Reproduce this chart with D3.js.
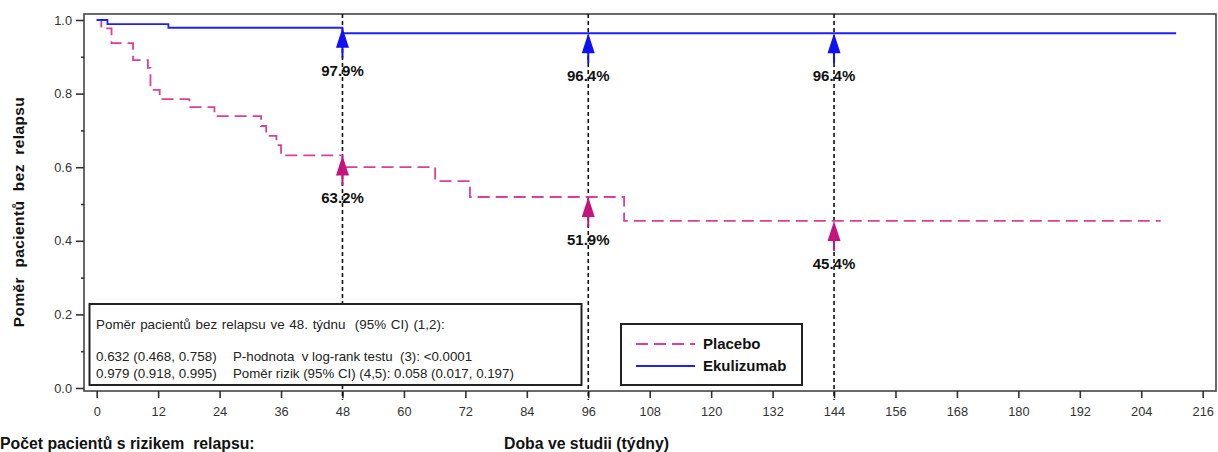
<!DOCTYPE html>
<html>
<head>
<meta charset="utf-8">
<script src="https://cdn.jsdelivr.net/npm/d3@7"></script>
<style>
body { margin: 0; background: #fff; }
text { font-family: "Liberation Sans", Arial, sans-serif; white-space: pre; }
</style>
</head>
<body>
<div id="chart"></div>
<script>
// Kaplan-Meier steps (weeks, proportion without relapse)
var placeboWeeks = [0, 0.9, 2.9, 7.1, 10, 10.5, 12.3, 18.1, 23, 32.1, 33.1, 35.1, 36, 48, 66.1, 72.9, 103, 207.8];
var placeboSurv  = [1, 0.977, 0.937, 0.891, 0.870, 0.810, 0.785, 0.763, 0.739, 0.712, 0.685, 0.660, 0.632, 0.600, 0.562, 0.519, 0.454, 0.454];
var ekuWeeks = [0, 2.1, 14, 48, 210.8];
var ekuSurv  = [1, 0.989, 0.979, 0.964, 0.964];

var markWeeks = [48, 96, 144];
var placeboMarks = [0.632, 0.519, 0.454];
var ekuMarks = [0.979, 0.964, 0.964];
var placeboLabels = ['63.2%', '51.9%', '45.4%'];
var ekuLabels = ['97.9%', '96.4%', '96.4%'];

var xTicks = d3.range(0, 217, 12);
var yTicks = [0, 0.2, 0.4, 0.6, 0.8, 1.0];
var yMinorTicks = [0.1, 0.3, 0.5, 0.7, 0.9];

var seriesNames = ['Placebo', 'Ekulizumab'];
var statsTitle = 'Poměr pacientů bez relapsu ve 48. týdnu  (95% CI) (1,2):';
var statsLeft = ['0.632 (0.468, 0.758)', '0.979 (0.918, 0.995)'];
var statsRight = ['P-hodnota  v log-rank testu  (3): <0.0001', 'Poměr rizik (95% CI) (4,5): 0.058 (0.017, 0.197)'];

var svgwidth = 1218, svgheight = 452;
var frame = {left: 84, top: 14, right: 1216, bottom: 391};
var placeboColor = '#dc3f99', placeboArrow = '#c4157f';
var ekuColor = '#1f1fff', ekuArrow = '#1010f5';

var svg = d3.select('#chart')
	.append('svg')
		.attr('width', svgwidth)
		.attr('height', svgheight);

var x = d3.scaleLinear().domain([0, 216]).range([96.7, 1202.7]);
var y = d3.scaleLinear().domain([0, 1]).range([388, 20]);

// frame
svg.append('rect')
	.attr('x', frame.left)
	.attr('y', frame.top)
	.attr('width', frame.right - frame.left)
	.attr('height', frame.bottom - frame.top)
	.attr('fill', 'none')
	.attr('stroke', '#444')
	.attr('stroke-width', 1.6);

var xAxis = d3.axisBottom(x).tickValues(xTicks).tickSize(7).tickSizeOuter(0).tickPadding(9);
var gX = svg.append('g')
	.attr('transform', 'translate(0,' + frame.bottom + ')')
	.call(xAxis);

var yAxis = d3.axisLeft(y).tickValues(yTicks).tickSize(8).tickSizeOuter(0).tickPadding(4)
	.tickFormat(d3.format('.1f'));
var gY = svg.append('g')
	.attr('transform', 'translate(' + frame.left + ',0)')
	.call(yAxis);

svg.append('g')
	.attr('transform', 'translate(' + frame.left + ',0)')
	.call(d3.axisLeft(y).tickValues(yMinorTicks).tickSize(3).tickFormat(''))
	.select('.domain').remove();

svg.selectAll('.domain').remove();
svg.selectAll('.tick line').attr('stroke', '#333').attr('stroke-width', 1.6);
svg.selectAll('.tick text')
	.attr('fill', '#333')
	.attr('font-size', 12.8)
	.attr('font-family', '"Liberation Sans", Arial, sans-serif');

// reference lines at the milestone weeks
svg.selectAll('.refline')
	.data(markWeeks)
	.enter().append('line')
	.attr('x1', function(d) { return x(d); })
	.attr('x2', function(d) { return x(d); })
	.attr('y1', frame.top)
	.attr('y2', frame.bottom + 9)
	.attr('stroke', '#111')
	.attr('stroke-width', 1.6)
	.attr('stroke-dasharray', '4,3');

var step = d3.line()
	.curve(d3.curveStepAfter)
	.x(function(d) { return x(d[0]); })
	.y(function(d) { return y(d[1]); });

svg.append('path')
	.datum(d3.zip(placeboWeeks, placeboSurv))
	.attr('fill', 'none')
	.attr('stroke', placeboColor)
	.attr('stroke-width', 1.8)
	.attr('stroke-dasharray', '12,6')
	.attr('d', step);

svg.append('path')
	.datum(d3.zip(ekuWeeks, ekuSurv))
	.attr('fill', 'none')
	.attr('stroke', ekuColor)
	.attr('stroke-width', 1.8)
	.attr('d', step);

function drawArrows(values, labels, color) {
	markWeeks.forEach(function(w, i) {
		var cx = x(w), ty = y(values[i]);
		svg.append('line')
			.attr('x1', cx).attr('x2', cx)
			.attr('y1', ty + 18).attr('y2', ty + 30)
			.attr('stroke', color)
			.attr('stroke-width', 2);
		svg.append('path')
			.attr('d', 'M' + cx + ',' + ty + 'L' + (cx - 6.5) + ',' + (ty + 20) + 'L' + (cx + 6.5) + ',' + (ty + 20) + 'Z')
			.attr('fill', color);
		svg.append('text')
			.attr('x', cx)
			.attr('y', ty + 48)
			.attr('text-anchor', 'middle')
			.attr('font-size', 15)
			.attr('font-weight', 'bold')
			.attr('fill', '#111')
			.text(labels[i]);
	});
}
drawArrows(placeboMarks, placeboLabels, placeboArrow);
drawArrows(ekuMarks, ekuLabels, ekuArrow);

// statistics box
var stats = svg.append('g');
stats.append('rect')
	.attr('x', 89.5).attr('y', 304)
	.attr('width', 492).attr('height', 81)
	.attr('fill', '#fff')
	.attr('stroke', '#222')
	.attr('stroke-width', 2);
stats.append('text')
	.attr('x', 96).attr('y', 328.5)
	.attr('font-size', 13.4)
	.attr('word-spacing', 1)
	.attr('fill', '#222')
	.text(statsTitle);
statsLeft.forEach(function(t, i) {
	stats.append('text')
		.attr('x', 96).attr('y', 360.5 + i * 17)
		.attr('font-size', 13.4)
		.attr('fill', '#222')
		.text(t);
	stats.append('text')
		.attr('x', 233).attr('y', 360.5 + i * 17)
		.attr('font-size', 13.3)
		.attr('fill', '#222')
		.text(statsRight[i]);
});

// legend
var legend = svg.append('g');
legend.append('rect')
	.attr('x', 621).attr('y', 324)
	.attr('width', 181).attr('height', 61)
	.attr('fill', '#fff')
	.attr('stroke', '#222')
	.attr('stroke-width', 2);
[placeboColor, ekuColor].forEach(function(c, i) {
	legend.append('line')
		.attr('x1', 636).attr('x2', 695)
		.attr('y1', 344 + i * 22).attr('y2', 344 + i * 22)
		.attr('stroke', c)
		.attr('stroke-width', 1.8)
		.attr('stroke-dasharray', i === 0 ? '12,6' : null);
	legend.append('text')
		.attr('x', 703).attr('y', 349 + i * 22)
		.attr('font-size', 15)
		.attr('font-weight', 'bold')
		.attr('fill', '#111')
		.text(seriesNames[i]);
});

// axis titles
svg.append('text')
	.attr('transform', 'translate(24,212) rotate(-90)')
	.attr('text-anchor', 'middle')
	.attr('font-size', 15.5)
	.attr('font-weight', 'bold')
	.attr('letter-spacing', 0.4)
	.attr('fill', '#111')
	.text('Poměr  pacientů  bez  relapsu');

svg.append('text')
	.attr('x', 504).attr('y', 449)
	.attr('font-size', 15.8)
	.attr('font-weight', 'bold')
	.attr('fill', '#111')
	.text('Doba ve studii (týdny)');

svg.append('text')
	.attr('x', 0).attr('y', 449)
	.attr('font-size', 15.8)
	.attr('font-weight', 'bold')
	.attr('fill', '#111')
	.text('Počet pacientů s rizikem  relapsu:');
</script>
</body>
</html>
